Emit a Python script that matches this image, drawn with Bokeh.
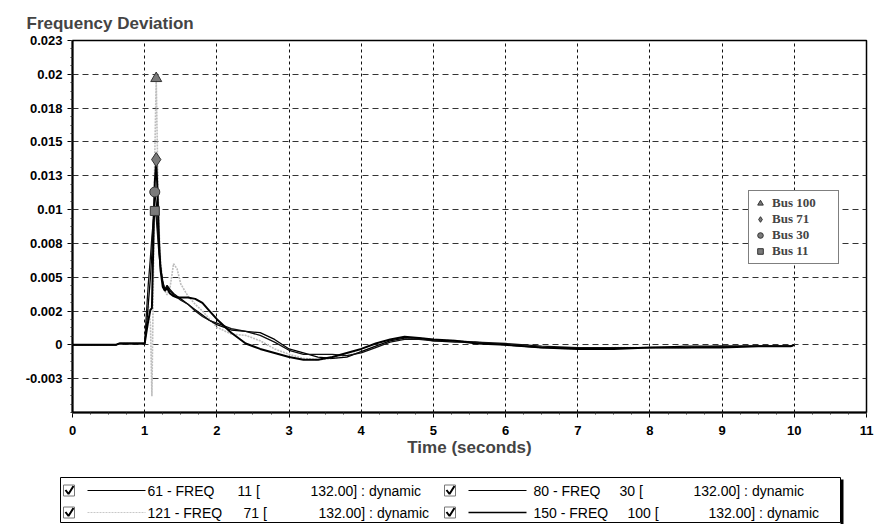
from bokeh.plotting import figure
from bokeh.models import FixedTicker, Legend, LegendItem
from bokeh.layouts import column
from bokeh.embed import file_html
from bokeh.resources import INLINE
from bokeh.core.properties import value

# ---------------- data ----------------
time_s = [0.0, 0.6, 0.65, 1.0, 1.02, 1.05, 1.08, 1.1, 1.12, 1.14, 1.16, 1.18, 1.2, 1.22,
          1.25, 1.28, 1.31, 1.35, 1.4, 1.45, 1.5, 1.6, 1.7, 1.8, 1.9, 2.0, 2.2, 2.4, 2.6,
          2.8, 3.0, 3.2, 3.4, 3.6, 3.8, 4.0, 4.2, 4.4, 4.6, 4.8, 5.0, 5.3, 5.6, 6.0, 6.5,
          7.0, 7.5, 8.0, 8.5, 9.0, 9.5, 9.95, 10.0]

bus11 = [0, 0, 0.0001, 0.0001, 0.002, 0.0045, 0.0065, 0.008, 0.0092, 0.0099, 0.0094, 0.0080,
         0.0066, 0.0056, 0.0046, 0.0040, 0.0043, 0.0040, 0.0037, 0.0035, 0.0033, 0.0030,
         0.0025, 0.0021, 0.0018, 0.0016, 0.0012, 0.0010, 0.0007, 0.0002, -0.0004, -0.0007,
         -0.0007, -0.0007, -0.0008, -0.0006, -0.0002, 0.0002, 0.0004, 0.0004, 0.0003, 0.0003,
         0.0002, 0.0001, -0.0001, -0.0002, -0.0002, -0.0002, -0.0002, -0.0001, -0.0001,
         -0.0001, 0.0]

bus30 = [0, 0, 0.0001, 0.0001, 0.001, 0.003, 0.005, 0.0068, 0.0095, 0.0113, 0.0105, 0.0085,
         0.0070, 0.0058, 0.0047, 0.0041, 0.0044, 0.0041, 0.0038, 0.0036, 0.0034, 0.0030,
         0.0026, 0.0022, 0.0018, 0.0015, 0.0011, 0.0010, 0.0009, 0.0004, -0.0003, -0.0006,
         -0.0009, -0.0010, -0.0009, -0.0005, -0.0001, 0.0003, 0.0005, 0.0005, 0.0003, 0.0002,
         0.0002, 0.0000, -0.0002, -0.0002, -0.0002, -0.0002, -0.0001, -0.0001, -0.0001,
         -0.0001, 0.0]

bus71 = [0, 0, 0.0001, 0.0001, 0.0008, 0.0018, 0.0026, 0.0027, 0.0075, 0.0120, 0.0137, 0.0110,
         0.0075, 0.0055, 0.0043, 0.0040, 0.0042, 0.0038, 0.0036, 0.0035, 0.0035, 0.0035,
         0.0034, 0.0031, 0.0025, 0.0019, 0.0009, 0.0001, -0.0003, -0.0006, -0.0009, -0.0011,
         -0.0011, -0.0009, -0.0006, -0.0003, 0.0001, 0.0004, 0.0006, 0.0005, 0.0004, 0.0003,
         0.0001, 0.0000, -0.0002, -0.0003, -0.0003, -0.0002, -0.0002, -0.0002, -0.0001,
         -0.0001, 0.0]

bus100 = [0, 0, 0.0001, 0.0001, 0.0012, 0.0030, 0.0015, -0.0038, 0.0045, 0.0140, 0.0197, 0.0130,
          0.0085, 0.0062, 0.0047, 0.0040, 0.0037, 0.0042, 0.0060, 0.0056, 0.0045, 0.0036,
          0.0030, 0.0025, 0.0019, 0.0013, 0.0008, 0.0007, 0.0003, -0.0003, -0.0007, -0.0010,
          -0.0011, -0.0010, -0.0008, -0.0005, -0.0001, 0.0003, 0.0005, 0.0005, 0.0004, 0.0003,
          0.0002, 0.0000, -0.0002, -0.0003, -0.0002, -0.0002, -0.0002, -0.0001, -0.0001,
          -0.0001, 0.0]

y_ticks = [-0.0025, 0.0, 0.0025, 0.005, 0.0075, 0.01, 0.0125, 0.015, 0.0175, 0.02, 0.0225]
y_tick_labels = ["-0.003", "0", "0.002", "0.005", "0.008", "0.01", "0.013", "0.015",
                 "0.018", "0.02", "0.023"]
x_ticks = list(range(0, 12))

legend_names = ["Bus 100", "Bus 71", "Bus 30", "Bus 11"]
table_rows = [
    ("61 - FREQ", "11 [", "132.00] : dynamic"),
    ("121 - FREQ", "71 [", "132.00] : dynamic"),
    ("80 - FREQ", "30 [", "132.00] : dynamic"),
    ("150 - FREQ", "100 [", "132.00] : dynamic"),
]

for s in (bus11, bus30, bus71, bus100):
    assert len(s) == len(time_s)

# ---------------- main chart ----------------
SANS = "Liberation Sans"
p = figure(width=883, height=468, x_range=(0, 11), y_range=(-0.005, 0.0225),
           output_backend="svg", toolbar_location=None,
           min_border_left=72, min_border_right=17, min_border_top=40, min_border_bottom=56)
p.frame_align = False
p.background_fill_color = "white"
p.border_fill_color = "white"
p.outline_line_color = "black"
p.outline_line_width = 1.5

p.title.text = "Frequency Deviation"
p.title.text_font = SANS
p.title.text_font_style = "bold"
p.title.text_font_size = "17px"
p.title.align = "left"
p.title.offset = -46
p.title.standoff = 15

p.xaxis.ticker = FixedTicker(ticks=x_ticks, minor_ticks=[i * 0.25 for i in range(0, 45)])
p.yaxis.ticker = FixedTicker(ticks=y_ticks, minor_ticks=[-0.005 + i * 0.000625 for i in range(0, 45)])
p.yaxis.major_label_overrides = {t: l for t, l in zip(y_ticks, y_tick_labels)}

for ax in (p.xaxis[0], p.yaxis[0]):
    ax.axis_line_width = 2
    ax.axis_line_color = "black"
    ax.major_tick_in = 0
    ax.major_tick_out = 5
    ax.minor_tick_in = 0
    ax.minor_tick_out = 2
    ax.major_tick_line_color = "black"
    ax.minor_tick_line_color = "#333333"
    ax.major_label_text_font = SANS
    ax.major_label_text_font_style = "bold"
    ax.major_label_text_font_size = "13px"
    ax.major_label_text_color = "black"

p.xaxis.major_label_standoff = 8
p.yaxis.major_label_standoff = 5
p.xaxis.axis_label = "Time (seconds)"
p.xaxis.axis_label_text_font = SANS
p.xaxis.axis_label_text_font_style = "bold"
p.xaxis.axis_label_text_font_size = "17px"
p.xaxis.axis_label_standoff = 0

p.xgrid.grid_line_color = "#111111"
p.xgrid.grid_line_dash = "3 3"
p.xgrid.grid_line_width = 1
p.ygrid.grid_line_color = "#333333"
p.ygrid.grid_line_dash = "6 4"
p.ygrid.grid_line_width = 1

p.line(time_s, bus100, line_color="#bdbdbd", line_width=1.6, line_dash="2 1")
p.line(time_s, bus30, line_color="black", line_width=1.3)
p.line(time_s, bus11, line_color="#111111", line_width=1.3)
p.line(time_s, bus71, line_color="black", line_width=2)

def peak(series):
    i = max(range(len(series)), key=lambda k: series[k])
    return [time_s[i]], [series[i]]

markers = []
for series, mk, sz in ((bus100, "triangle", 11), (bus71, "diamond", 14),
                       (bus30, "circle", 10), (bus11, "square", 9)):
    xs, ys = peak(series)
    r = p.scatter(xs, ys, marker=mk, size=sz, fill_color="#7a7a7a", line_color="#333333",
                  line_width=1)
    markers.append(r)

legend = Legend(items=[LegendItem(label=n, renderers=[r]) for n, r in zip(legend_names, markers)],
                location=(676, 148), orientation="vertical")
legend.label_text_font = "Liberation Serif"
legend.label_text_font_style = "bold"
legend.label_text_font_size = "13px"
legend.label_height = 14
legend.glyph_height = 14
legend.glyph_width = 14
legend.label_standoff = 5
legend.label_width = 62
legend.spacing = 0
legend.padding = 4
legend.margin = 0
legend.border_line_color = "black"
legend.border_line_width = 1
legend.background_fill_alpha = 1
p.add_layout(legend)

# ---------------- bottom series table ----------------
W2, H2 = 883, 56
leg = figure(width=W2, height=H2, x_range=(-8, W2 - 8), y_range=(0, H2), output_backend="svg",
             toolbar_location=None, x_axis_type=None, y_axis_type=None, min_border=0)
leg.frame_align = False
leg.outline_line_color = None
leg.grid.visible = False

# frame box
leg.quad(left=[52], right=[832], bottom=[2], top=[47], fill_color="white", line_color="black",
         line_width=1)
leg.quad(left=[832], right=[835], bottom=[0], top=[45], fill_color="black", line_color=None)

FS = "14px"
row_y = [34, 12, 34, 12]
col_x = [0, 0, 381, 381]
line_styles = [("black", 1, "solid"), ("#c8c8c8", 1, "2 1"), ("black", 1, "solid"),
               ("black", 1.6, "solid")]
name_dx = [0, 0, 5, 5]
bus_dx = [0, 6, 1, 9]
val_dx = [0, 8, 2, 17]
for k in range(4):
    cx, cy = col_x[k], row_y[k]
    # checkbox
    leg.quad(left=[cx + 55], right=[cx + 66], bottom=[cy - 5.5], top=[cy + 5.5],
             fill_color="white", line_color="#777777", line_width=1)
    leg.line([cx + 57, cx + 60, cx + 65], [cy + 0.5, cy - 3.5, cy + 4.5], line_color="black",
             line_width=2)
    # line sample
    c, w, d = line_styles[k]
    leg.line([cx + 79, cx + 137], [cy, cy], line_color=c, line_width=w, line_dash=d)
    a, b, v = table_rows[k]
    leg.text([cx + 139 + name_dx[k]], [cy], text=[a], text_font=value(SANS), text_font_size=FS,
             text_baseline="middle", text_color="black")
    leg.text([cx + 229 + bus_dx[k]], [cy], text=[b], text_font=value(SANS), text_font_size=FS,
             text_baseline="middle", text_color="black")
    leg.text([cx + 302 + val_dx[k]], [cy], text=[v], text_font=value(SANS), text_font_size=FS,
             text_baseline="middle", text_color="black")

layout = column(p, leg, spacing=0)
open("out.html", "w").write(file_html(layout, INLINE))
